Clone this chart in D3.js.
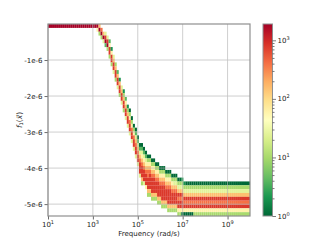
<!DOCTYPE html>
<html><head><meta charset="utf-8">
<script src="https://cdn.jsdelivr.net/npm/d3@7"></script>
<style>body{margin:0;background:#fff} svg{display:block} text{font-family:"DejaVu Sans",sans-serif;fill:#222}</style>
</head><body><svg id="c" width="320" height="240"></svg>
<script>
// ---- histogram binning (log10 frequency x value) ----
const xLogExtent = [1, 10];
const nXBins = 100;
const yValueExtent = [-5.33e-6, 0];
const nYBins = 50;
// count represented by each level digit in the column strings
const levelCounts = [1, 2, 4, 10, 25, 60, 150, 400, 800, 1900];
const countMax = 1900;
// column data: [first row from top, level digits for consecutive rows downward]
const flatColumn = [0, "9"];              // columns 0..23
const transitionColumns = [               // columns 24..67
  [0,"95"],[0,"693"],[1,"793"],[2,"694"],[2,"4892"],[3,"4893"],[4,"25883"],[6,"15883"],
  [8,"46884"],[10,"36883"],[12,"26884"],[14,"16883"],[16,"46884"],[17,"136883"],
  [19,"256884"],[21,"136884"],[22,"0357884"],[24,"0357884"],[26,"0357884"],
  [27,"02467884"],[29,"02467884"],[31,"024678884"],[31,"02456788863"],
  [32,"0245678884"],[33,"0245678885"],[34,"03567788863"],[34,"03567888863"],
  [35,"03567888863"],[35,"03567888863"],[36,"0356788863"],[36,"03567888863"],
  [37,"0356788863"],[37,"03567888863"],[37,"03567888863"],[38,"0356788863"],
  [38,"03567888863"],[38,"03567888863"],[39,"0356788863"],[39,"0346788863"],
  [39,"0346788863"],[40,"0346878853"],[40,"0346878853"],[40,"1346878850"],
  [41,"134687850"]
];
const earlyPlateauColumns = [[41,"034687850"],[41,"034687850"],[41,"034687850"],[41,"034687850"]]; // 68..71
const plateauColumn = [41, "034687853"];  // columns 72..99

const xTickExps = [1, 3, 5, 7, 9];
const yTickValues = [-1e-6, -2e-6, -3e-6, -4e-6, -5e-6];
const yTickLabels = ["-1e-6", "-2e-6", "-3e-6", "-4e-6", "-5e-6"];
const cbarTickExps = [0, 1, 2, 3];
const xLabel = "Frequency (rad/s)";

// ---- assemble columns ----
const columns = [];
for (let i = 0; i < 24; i++) columns.push(flatColumn);
transitionColumns.forEach(c => columns.push(c));
earlyPlateauColumns.forEach(c => columns.push(c));
while (columns.length < nXBins) columns.push(plateauColumn);

const cells = [];
columns.forEach((col, ci) => {
  const [start, s] = col;
  for (let k = 0; k < s.length; k++) cells.push({ci, ri: start + k, count: levelCounts[+s[k]]});
});

// ---- scales ----
const svg = d3.select("#c");
const L = 48, R = 250, T = 24, B = 216;
const x = d3.scaleLog().domain([10 ** xLogExtent[0], 10 ** xLogExtent[1]]).range([L, R]);
const y = d3.scaleLinear().domain(yValueExtent).range([B, T]);
const dxLog = (xLogExtent[1] - xLogExtent[0]) / nXBins;
const dy = (yValueExtent[1] - yValueExtent[0]) / nYBins;
const cmapColors = ["#a50026","#d73027","#f46d43","#fdae61","#fee08b","#ffffbf","#d9ef8b","#a6d96a","#66bd63","#1a9850","#006837"].reverse();
const cmap = d3.scaleLinear().domain(d3.range(11).map(i => i / 10)).range(cmapColors).interpolate(d3.interpolateRgb);
const norm = d3.scaleLog().domain([1, countMax]).range([0, 1]).clamp(true);

// ---- cells ----
svg.append("g").selectAll("rect").data(cells).join("rect")
  .attr("x", d => x(10 ** (xLogExtent[0] + d.ci * dxLog)))
  .attr("width", d => x(10 ** (xLogExtent[0] + (d.ci + 1) * dxLog)) - x(10 ** (xLogExtent[0] + d.ci * dxLog)) + 0.05)
  .attr("y", d => y(yValueExtent[1] - d.ri * dy))
  .attr("height", d => y(yValueExtent[1] - (d.ri + 1) * dy) - y(yValueExtent[1] - d.ri * dy) + 0.05)
  .attr("fill", d => cmap(norm(d.count)));

// ---- grid ----
const grid = svg.append("g").attr("stroke", "#b0b0b0").attr("stroke-width", 0.8).attr("opacity", 0.75);
grid.selectAll(".gx").data(xTickExps).join("line")
  .attr("x1", d => x(10 ** d)).attr("x2", d => x(10 ** d)).attr("y1", T).attr("y2", B);
grid.selectAll(".gy").data(yTickValues).join("line")
  .attr("y1", d => y(d)).attr("y2", d => y(d)).attr("x1", L).attr("x2", R);

// ---- axes ----
const xAxis = svg.append("g").attr("transform", `translate(0,${B})`)
  .call(d3.axisBottom(x).tickValues(xTickExps.map(e => 10 ** e)).tickSize(3.5).tickFormat(""));
const yAxis = svg.append("g").attr("transform", `translate(${L},0)`)
  .call(d3.axisLeft(y).tickValues(yTickValues).tickSize(3.5).tickFormat((d, i) => yTickLabels[i]));
[xAxis, yAxis].forEach(g => { g.select(".domain").remove(); g.selectAll(".tick line").attr("stroke", "#444").attr("stroke-width", 0.8); });
yAxis.selectAll(".tick text").attr("font-size", 7).attr("fill", "#222").attr("x", -5.5).attr("font-family", "DejaVu Sans");

const xl = svg.append("g").selectAll("text").data(xTickExps).join("text")
  .attr("x", d => x(10 ** d)).attr("y", 226.5).attr("text-anchor", "middle").attr("font-size", 7);
xl.append("tspan").text("10");
xl.append("tspan").attr("font-size", 5).attr("dy", -3).text(d => d);

svg.append("rect").attr("x", L).attr("y", T).attr("width", R - L).attr("height", B - T)
  .attr("fill", "none").attr("stroke", "#8f8f8f").attr("stroke-width", 1.2);

svg.append("text").attr("x", (L + R) / 2).attr("y", 236).attr("text-anchor", "middle").attr("font-size", 7).text(xLabel);

const yl = svg.append("text").attr("transform", "translate(21.5,120) rotate(-90)").attr("text-anchor", "middle").attr("font-size", 7.5);
yl.append("tspan").attr("font-style", "italic").text("f");
yl.append("tspan").attr("font-size", 5).attr("dy", 1.5).text("1");
yl.append("tspan").attr("dy", -1.5).text("(");
yl.append("tspan").attr("font-style", "italic").text("x\u20D7");
yl.append("tspan").text(")");

// ---- colorbar ----
const CL = 263, CR = 272.5;
const cy = d3.scaleLog().domain([1, countMax]).range([B, T]);
const defs = svg.append("defs");
const grad = defs.append("linearGradient").attr("id", "cg").attr("x1", 0).attr("x2", 0).attr("y1", 1).attr("y2", 0);
grad.selectAll("stop").data(d3.range(0, 1.0001, 0.02)).join("stop")
  .attr("offset", d => d).attr("stop-color", d => cmap(d));
svg.append("rect").attr("x", CL).attr("y", T).attr("width", CR - CL).attr("height", B - T)
  .attr("fill", "url(#cg)").attr("stroke", "#8f8f8f").attr("stroke-width", 1);
const minor = [];
cbarTickExps.forEach(e => { for (let m = 2; m <= 9; m++) { const v = m * 10 ** e; if (v <= countMax) minor.push(v); } });
const cAxis = svg.append("g").attr("transform", `translate(${CR},0)`)
  .call(d3.axisRight(cy).tickValues(cbarTickExps.map(e => 10 ** e)).tickSize(3.5).tickFormat(""));
const cAxisMinor = svg.append("g").attr("transform", `translate(${CR},0)`)
  .call(d3.axisRight(cy).tickValues(minor).tickSize(2).tickFormat(""));
[cAxis, cAxisMinor].forEach(g => { g.select(".domain").remove(); g.selectAll(".tick line").attr("stroke", "#444").attr("stroke-width", 0.7); });
const cl = svg.append("g").selectAll("text").data(cbarTickExps).join("text")
  .attr("x", 277.5).attr("y", d => cy(10 ** d) + 2.5).attr("font-size", 7);
cl.append("tspan").text("10");
cl.append("tspan").attr("font-size", 5).attr("dy", -3).text(d => d);
</script></body></html>
